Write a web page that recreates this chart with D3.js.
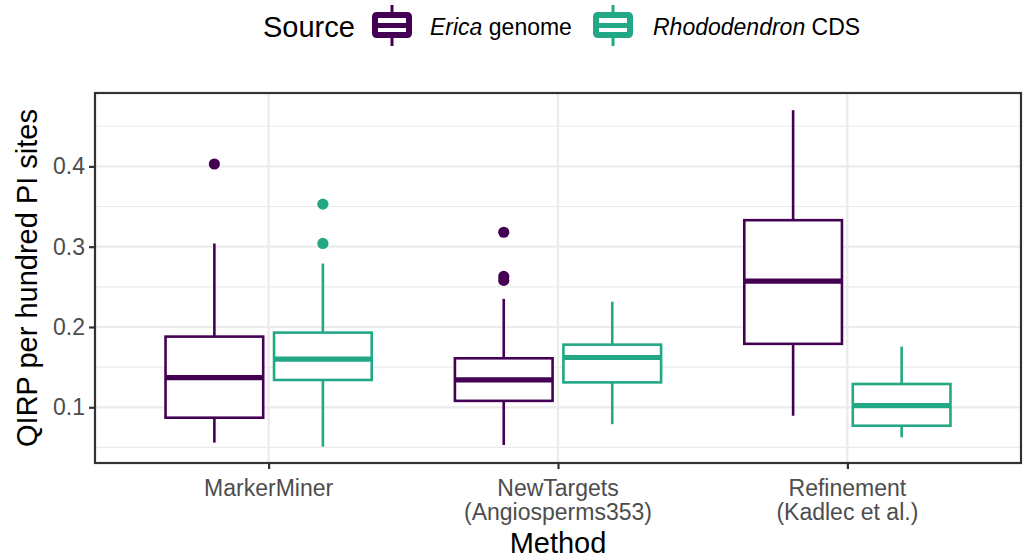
<!DOCTYPE html>
<html>
<head>
<meta charset="utf-8">
<script src="https://cdn.jsdelivr.net/npm/d3@7"></script>
<style>
  body { margin: 0; background: #fff; }
  svg { font-family: "Liberation Sans", Arial, Helvetica, sans-serif; display: block; }
</style>
</head>
<body>
<svg id="chart" width="1024" height="560"></svg>
<script>
// Methods along the x axis (label lines) and the two data sources
const methods = ["MarkerMiner", "NewTargets", "Refinement"];
const methodLabels = [["MarkerMiner"], ["NewTargets", "(Angiosperms353)"], ["Refinement", "(Kadlec et al.)"]];
const sources = ["Erica", "Rhododendron"];
const sourceColors = ["#440154", "#22A884"];

// Box summaries per method: [whisker low, Q1, median, Q3, whisker high]
const ericaStats = [
  [0.056, 0.087, 0.137, 0.188, 0.304],
  [0.053, 0.108, 0.134, 0.161, 0.235],
  [0.0895, 0.179, 0.257, 0.333, 0.470]
];
const rhodoStats = [
  [0.051, 0.134, 0.160, 0.193, 0.279],
  [0.079, 0.131, 0.162, 0.178, 0.2315],
  [0.0626, 0.077, 0.102, 0.129, 0.1755]
];
// Outliers per method
const ericaOutliers = [[0.403], [0.318, 0.263, 0.258], []];
const rhodoOutliers = [[0.353, 0.304], [], []];

const yTicks = [0.1, 0.2, 0.3, 0.4];
const yMinor = [0.05, 0.15, 0.25, 0.35, 0.45];

const smallFont = "23px";
const titleFont = "29px";

const svg = d3.select("#chart");
const panel = { left: 95, right: 1021, top: 93, bottom: 463 };

const x = d3.scaleLinear().domain([0.4, 3.6]).range([panel.left, panel.right]);
const y = d3.scaleLinear().domain([0.0306, 0.4914]).range([panel.bottom, panel.top]);

const boxW = 0.3375;    // box width in category units
const offset = 0.1875;  // dodge offset from category centre

// Grid
const g = svg.append("g");
g.selectAll(".minor").data(yMinor).join("line")
  .attr("x1", panel.left).attr("x2", panel.right)
  .attr("y1", d => y(d)).attr("y2", d => y(d))
  .attr("stroke", "#EBEBEB").attr("stroke-width", 1.1);
g.selectAll(".major").data(yTicks).join("line")
  .attr("x1", panel.left).attr("x2", panel.right)
  .attr("y1", d => y(d)).attr("y2", d => y(d))
  .attr("stroke", "#EBEBEB").attr("stroke-width", 2.2);
g.selectAll(".vmajor").data(methods).join("line")
  .attr("x1", (d, i) => x(i + 1)).attr("x2", (d, i) => x(i + 1))
  .attr("y1", panel.top).attr("y2", panel.bottom)
  .attr("stroke", "#EBEBEB").attr("stroke-width", 2.2);

// Boxplots
function drawSeries(stats, outliers, si) {
  const col = sourceColors[si];
  const dx = si === 0 ? -offset : offset;
  const s = svg.append("g");
  stats.forEach((st, i) => {
    const cx = x(i + 1 + dx);
    const x0 = x(i + 1 + dx - boxW / 2), x1 = x(i + 1 + dx + boxW / 2);
    const [lo, q1, med, q3, hi] = st;
    s.append("line").attr("x1", cx).attr("x2", cx).attr("y1", y(hi)).attr("y2", y(q3))
      .attr("stroke", col).attr("stroke-width", 2.6);
    s.append("line").attr("x1", cx).attr("x2", cx).attr("y1", y(q1)).attr("y2", y(lo))
      .attr("stroke", col).attr("stroke-width", 2.6);
    s.append("rect").attr("x", x0).attr("y", y(q3)).attr("width", x1 - x0).attr("height", y(q1) - y(q3))
      .attr("fill", "#fff").attr("stroke", col).attr("stroke-width", 2.6);
    s.append("line").attr("x1", x0).attr("x2", x1).attr("y1", y(med)).attr("y2", y(med))
      .attr("stroke", col).attr("stroke-width", 5.2);
    outliers[i].forEach(v => {
      s.append("circle").attr("cx", cx).attr("cy", y(v)).attr("r", 5.6).attr("fill", col);
    });
  });
}
drawSeries(ericaStats, ericaOutliers, 0);
drawSeries(rhodoStats, rhodoOutliers, 1);

// Panel border
svg.append("rect").attr("x", panel.left).attr("y", panel.top)
  .attr("width", panel.right - panel.left).attr("height", panel.bottom - panel.top)
  .attr("fill", "none").attr("stroke", "#333333").attr("stroke-width", 2.2);

// Y axis
const yAxis = svg.append("g").attr("transform", `translate(${panel.left},0)`)
  .call(d3.axisLeft(y).tickValues(yTicks).tickSize(6).tickPadding(4).tickFormat(d3.format(".1f")));
yAxis.select(".domain").remove();
yAxis.selectAll(".tick line").attr("stroke", "#333333").attr("stroke-width", 2.2);
yAxis.selectAll(".tick text").attr("fill", "#4D4D4D").style("font-size", smallFont)
  .style("font-family", "'Liberation Sans', Arial, sans-serif");

// X axis
const xAxis = svg.append("g").attr("transform", `translate(0,${panel.bottom})`)
  .call(d3.axisBottom(x).tickValues([1, 2, 3]).tickSize(6).tickFormat(""));
xAxis.select(".domain").remove();
xAxis.selectAll(".tick line").attr("stroke", "#333333").attr("stroke-width", 2.2);
methodLabels.forEach((lines, i) => {
  const t = svg.append("text").attr("x", x(i + 1)).attr("y", 496)
    .attr("text-anchor", "middle").attr("fill", "#4D4D4D").style("font-size", smallFont);
  lines.forEach((ln, j) => t.append("tspan").attr("x", x(i + 1)).attr("dy", j === 0 ? 0 : 24).text(ln));
});

// Axis titles
svg.append("text").attr("x", (panel.left + panel.right) / 2).attr("y", 553)
  .attr("text-anchor", "middle").attr("fill", "#000").style("font-size", titleFont).text("Method");
svg.append("text").attr("transform", `translate(37,${(panel.top + panel.bottom) / 2}) rotate(-90)`)
  .attr("text-anchor", "middle").attr("fill", "#000").style("font-size", titleFont).text("QIRP per hundred PI sites");

// Legend
const leg = svg.append("g");
leg.append("text").attr("x", 263).attr("y", 37).attr("fill", "#000").style("font-size", titleFont).text("Source");
const legendItems = [
  { x0: 372, col: sourceColors[0], tx: 430, italic: "Erica", rest: " genome" },
  { x0: 593, col: sourceColors[1], tx: 653, italic: "Rhododendron", rest: " CDS" }
];
legendItems.forEach(it => {
  const cx = it.x0 + 20;
  leg.append("line").attr("x1", cx).attr("x2", cx).attr("y1", 5).attr("y2", 46)
    .attr("stroke", it.col).attr("stroke-width", 3);
  leg.append("rect").attr("x", it.x0 + 3).attr("y", 15).attr("width", 34).attr("height", 20)
    .attr("rx", 1.5).attr("fill", "#fff").attr("stroke", it.col).attr("stroke-width", 6);
  leg.append("line").attr("x1", it.x0 + 3).attr("x2", it.x0 + 37).attr("y1", 25.5).attr("y2", 25.5)
    .attr("stroke", it.col).attr("stroke-width", 5);
  const t = leg.append("text").attr("x", it.tx).attr("y", 35).attr("fill", "#000").style("font-size", smallFont);
  t.append("tspan").style("font-style", "italic").text(it.italic);
  t.append("tspan").text(it.rest);
});
</script>
</body>
</html>
